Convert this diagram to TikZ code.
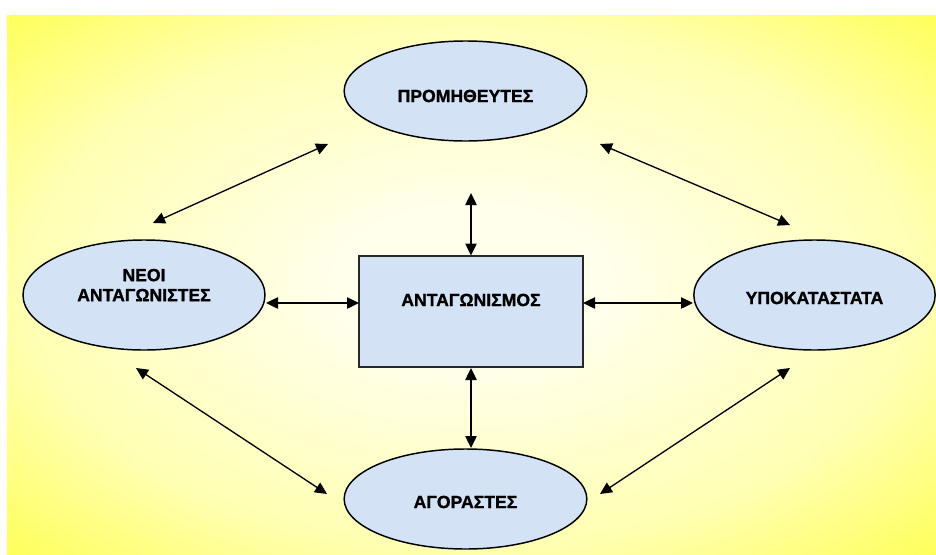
\documentclass[tikz,border=0pt]{standalone}
\usepackage{fontspec}
\setmainfont{Liberation Sans}[BoldFont={Liberation Sans Bold}, BoldFeatures={FakeBold=1.2}]
\usetikzlibrary{arrows.meta,shapes.geometric}

\definecolor{bgyellow}{RGB}{255,255,0}
\definecolor{bgouter}{RGB}{255,255,70}
\definecolor{bgmid}{RGB}{255,255,180}
\definecolor{bgcentre}{RGB}{255,255,236}
\definecolor{bubble}{RGB}{212,226,246}
\definecolor{boxedge}{RGB}{40,40,40}

% pale centre fading to full yellow at the edges
\pgfdeclareradialshading{glow}{\pgfpoint{0bp}{0bp}}{%
  color(0bp)=(bgcentre); color(7bp)=(bgcentre); color(24bp)=(bgmid);
  color(38bp)=(bgouter); color(48bp)=(bgyellow); color(100bp)=(bgyellow)}

\tikzset{
  force/.style={ellipse, draw=black, line width=1.1pt, fill=bubble, inner sep=0pt},
  core/.style={rectangle, draw=boxedge, line width=1.1pt, fill=bubble, inner sep=0pt},
  caption/.style={font=\bfseries\fontsize{13.2}{15}\selectfont, text=black, align=center, inner sep=0pt},
  link/.style={{Triangle[length=9pt,width=8.5pt]}-{Triangle[length=9pt,width=8.5pt]}, line width=1pt}
}

\begin{document}
\begin{tikzpicture}[x=0.75pt, y=-0.75pt]
  \useasboundingbox (0,0) rectangle (936,554);
  \shade[shading=glow] (7,15) rectangle (936,554);

  % the five forces
  \node[force, minimum width=182pt, minimum height=75pt] (supp) at (465.5,91) {};
  \node[force, minimum width=182pt, minimum height=75pt] (buy) at (465.5,499) {};
  \node[force, minimum width=181.5pt, minimum height=82.5pt] (newc) at (144,295) {};
  \node[force, minimum width=181pt, minimum height=82.5pt] (subs) at (814.5,295) {};
  \node[core, minimum width=168pt, minimum height=83pt] (rival) at (471,311.5) {};

  \node[caption] (suppT) at (465.5,96) {ΠΡΟΜΗΘΕΥΤΕΣ};
  \node[caption] (buyT) at (465.5,502) {ΑΓΟΡΑΣΤΕΣ};
  \node[caption] (newcT) at (144,285) {ΝΕΟΙ\\ΑΝΤΑΓΩΝΙΣΤΕΣ};
  \node[caption] (subsT) at (814.5,298) {ΥΠΟΚΑΤΑΣΤΑΤΑ};
  \node[caption] (rivalT) at (471,300) {ΑΝΤΑΓΩΝΙΣΜΟΣ};

  % arrow end points
  \coordinate (a1) at (153,223);  \coordinate (a2) at (328,144);
  \coordinate (b1) at (600,144);  \coordinate (b2) at (790,225);
  \coordinate (c1) at (136,368);  \coordinate (c2) at (327,494);
  \coordinate (d1) at (790,368);  \coordinate (d2) at (600,494);
  \coordinate (e1) at (471,193);  \coordinate (e2) at (471,255.5);
  \coordinate (f1) at (471,368);  \coordinate (f2) at (471,448);
  \coordinate (g1) at (266,303);  \coordinate (g2) at (359,303);
  \coordinate (h1) at (583,303);  \coordinate (h2) at (693,303);

  \draw[link] (a1) -- (a2);
  \draw[link] (b1) -- (b2);
  \draw[link] (c1) -- (c2);
  \draw[link] (d1) -- (d2);
  \draw[link] (e1) -- (e2);
  \draw[link] (f1) -- (f2);
  \draw[link] (g1) -- (g2);
  \draw[link] (h1) -- (h2);
\end{tikzpicture}
\end{document}
